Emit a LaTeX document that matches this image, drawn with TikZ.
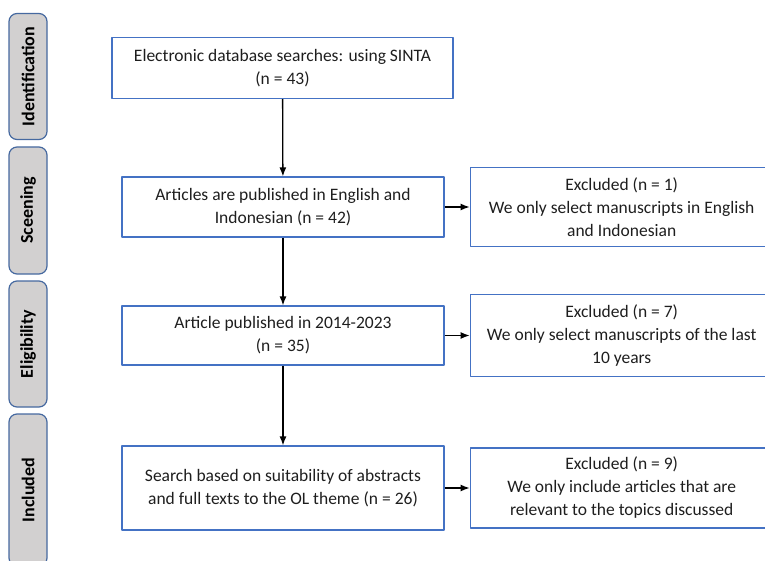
\documentclass[tikz,border=0pt]{standalone}
\usepackage{fontspec}
\setmainfont{Carlito}
\usetikzlibrary{arrows.meta,positioning}
\definecolor{boxblue}{RGB}{68,114,196}
\definecolor{stageedge}{RGB}{70,105,160}
\definecolor{stagefill}{RGB}{210,208,208}
\definecolor{txt}{RGB}{30,30,30}

\tikzset{
  stepbox/.style={draw=boxblue,line width=1.2pt,align=center,inner sep=0pt,text=txt,
    minimum width=322pt,font=\fontsize{17.5}{23}\selectfont},
  outbox/.style={draw=boxblue,line width=1.2pt,align=center,inner sep=0pt,text=txt,
    minimum width=303pt,font=\fontsize{17.5}{23}\selectfont},
  stage/.style={draw=stageedge,fill=stagefill,rounded corners=8pt,line width=1.2pt,
    rotate=90,minimum height=38pt,inner sep=0pt,font=\bfseries\fontsize{18}{20}\selectfont},
}

\begin{document}
\begin{tikzpicture}[x=1pt,y=-1pt,node distance=25pt,>={Latex[length=9pt,width=7pt]},line join=bevel]
\useasboundingbox (0,0) rectangle (765,561);
\clip (0,0) rectangle (765,561);

% stages on the left
\node [stage,minimum width=126pt] at (28,76.5) (idf) {Identification};
\node [stage,minimum width=127pt] at (28,210.5) (scr) {Sceening};
\node [stage,minimum width=126pt] at (28,344) (elg) {Eligibility};
\node [stage,minimum width=152pt] at (28,490) (inc) {Included};

% main flow
\node [stepbox,minimum width=341pt,minimum height=61pt] at (282.5,68) (s0) {Electronic database searches: using SINTA\\(n = 43)};
\node [stepbox,minimum height=60pt] at (283,207) (s1) {Articles are published in English and\\Indonesian (n = 42)};
\node [stepbox,minimum height=59pt] at (283,335.5) (s2) {Article published in 2014-2023\\(n = 35)};
\node [stepbox,minimum height=84pt] at (283,488) (s3) {Search based on suitability of abstracts\\and full texts to the OL theme (n = 26)};

% exclusions
\node [outbox,minimum height=79pt,right=of s1] (e1) {Excluded (n = 1)\\We only select manuscripts in English\\and Indonesian};
\node [outbox,minimum height=82pt,right=of s2] (e2) {Excluded (n = 7)\\We only select manuscripts of the last\\10 years};
\node [outbox,minimum height=80pt,right=of s3] (e3) {Excluded (n = 9)\\We only include articles that are\\relevant to the topics discussed};

\draw [->,line width=1.3pt] (s0) -- (s1);
\draw [->,line width=1.3pt] (s1) -- (s2);
\draw [->,line width=1.3pt] (s2) -- (s3);
\draw [->,line width=1.3pt] (s1) -- (e1);
\draw [->,line width=1.3pt] (s2) -- (e2);
\draw [->,line width=1.3pt] (s3) -- (e3);
\end{tikzpicture}
\end{document}
